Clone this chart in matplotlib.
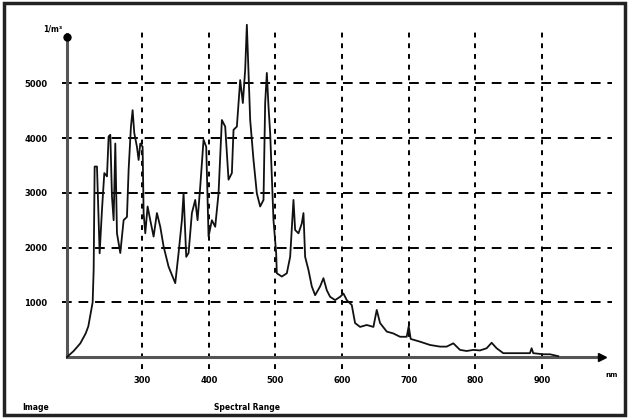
import numpy as np
import matplotlib
matplotlib.use('Agg')
from matplotlib import pyplot as plt

# spectrum (wavelength in nm, counts)
wavelength = [187, 197, 207, 215, 219, 222, 225.5, 227, 228.5, 232, 236, 239.5, 243, 247,
              249.5, 252, 254.5, 257, 259.5, 262, 267, 272, 277, 279.5, 283, 285.5, 288,
              292, 294.5, 297, 300.5, 302, 304.5, 308, 312, 317, 322, 327, 332, 339.5,
              349.5, 354.5, 359.5, 362, 366, 369.5, 374.5, 379.5, 383, 387, 392, 396,
              399.5, 404.5, 409.5, 414.5, 419.5, 424.5, 429.5, 434.5, 437, 442, 447, 451,
              454.5, 457, 459.5, 462, 467, 472, 477, 482, 484.5, 487, 489.5, 492, 497, 501,
              502, 509.5, 517, 522, 527, 529.5, 534.5, 539.5, 542, 544.5, 549.5, 554.5,
              559.5, 567, 572, 577, 582, 589.5, 597, 602, 607, 614.5, 619.5, 627, 637, 647,
              652, 657, 667, 677, 687, 697, 700, 703, 717, 732, 747, 757, 767, 777, 787,
              797, 807, 817, 824.5, 832, 842, 882, 884.5, 887, 902, 912, 924.5]
counts = [0, 110, 250, 430, 560, 760, 1000, 1590, 3480, 3480, 1895, 2690, 3360, 3300,
          4030, 4060, 2930, 2500, 3900, 2260, 1900, 2500, 2560, 3420, 4210, 4510, 4090,
          3840, 3600, 3900, 3840, 2630, 2260, 2750, 2500, 2200, 2630, 2380, 2020, 1650,
          1350, 1900, 2500, 2990, 1830, 1900, 2630, 2870, 2500, 3110, 3970, 3840,
          2200, 2500, 2380, 2990, 4330, 4210, 3240, 3360, 4150, 4210, 5060, 4640,
          5250, 6070, 5190, 4330, 3600, 2990, 2750, 2870, 4640, 5190, 4580, 4090, 2500, 1900,
          1530, 1470, 1530, 1830, 2870, 2320, 2260, 2440, 2630, 1830, 1590, 1290,
          1130, 1290, 1440, 1220, 1100, 1040, 1100, 1160, 1040, 950, 620, 550, 585, 550,
          860, 620, 465, 430, 370, 370, 560, 330, 280, 220, 190, 190, 250, 130, 110,
          130, 120, 160, 260, 160, 70, 70, 160, 70, 50, 50, 15]

x_ticks = [300, 400, 500, 600, 700, 800, 900]
y_ticks = [1000, 2000, 3000, 4000, 5000]

fig = plt.figure(figsize=(6.28, 4.18), dpi=100)
fig.patches.append(plt.Rectangle((0.006, 0.008), 0.99, 0.985, transform=fig.transFigure,
                                 fill=False, edgecolor='#222222', linewidth=2.5))

ax = fig.add_axes([0.1067, 0.1459, 0.857, 0.8014])
ax.set_xlim(187, 995)
ax.set_ylim(0, 6120)
for s in ax.spines.values():
    s.set_visible(False)

# dashed grid
for yv in y_ticks:
    ax.plot([180, 1005], [yv, yv], color='black', lw=1.4, dashes=(5, 3.5), clip_on=False)
for xv in x_ticks:
    ax.plot([xv, xv], [-220, 5950], color='black', lw=1.4, dashes=(2.5, 3), clip_on=False)

# axis lines with arrow heads
ax.plot([187, 985], [0, 0], color='#555555', lw=2.2, clip_on=False)
ax.plot([187, 187], [0, 5900], color='#555555', lw=2.2, clip_on=False)
ax.plot([990], [0], marker='>', color='black', markersize=6, clip_on=False)
ax.plot([187], [5850], marker='o', color='black', markersize=5, clip_on=False)

ax.plot(wavelength, counts, color='#111111', lw=1.3, clip_on=False)

ax.set_xticks(x_ticks)
ax.set_xticklabels([str(v) for v in x_ticks])
ax.set_yticks(y_ticks)
ax.set_yticklabels([str(v) for v in y_ticks])
ax.tick_params(length=0, labelsize=6, pad=14)
for lab in ax.get_xticklabels() + ax.get_yticklabels():
    lab.set_fontweight('bold')

ax.text(180, 5990, '1/m³', fontsize=5.5, fontweight='bold', ha='right', va='center')
ax.text(1005, -330, 'nm', fontsize=5, fontweight='bold', ha='center', va='center')

fig.text(0.035, 0.025, 'Image', fontsize=5.5, fontweight='bold', ha='left', va='center')
fig.text(0.34, 0.025, 'Spectral Range', fontsize=5.5, fontweight='bold', ha='left', va='center')

fig.savefig('out.png', dpi=100)
